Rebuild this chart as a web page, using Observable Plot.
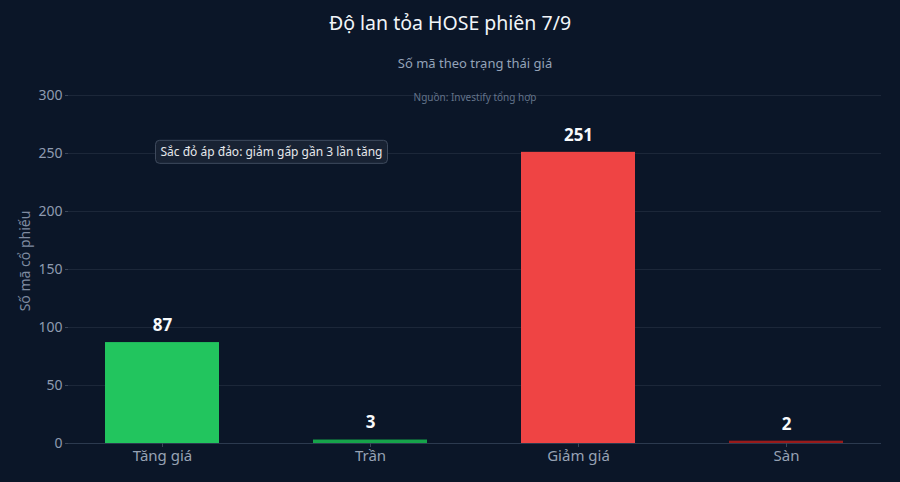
<!DOCTYPE html>
<html>
<head>
<meta charset="utf-8">
<script src="https://cdn.jsdelivr.net/npm/d3@7"></script>
<script src="https://cdn.jsdelivr.net/npm/@observablehq/plot@0.6"></script>
<style>
  html, body { margin: 0; padding: 0; background: #0b1628; }
  #wrap { width: 900px; height: 482px; background: #0b1628; font-family: "Noto Sans", sans-serif; overflow: hidden; }
  #title { height: 46px; line-height: 46px; text-align: center; color: #f1f5f9; font-size: 19.5px; }
  #subtitle { height: 34px; line-height: 34px; text-align: center; color: #94a3b8; font-size: 13px; padding-left: 50px; }
  svg { display: block; }
</style>
</head>
<body>
<div id="wrap">
  <div id="title">Độ lan tỏa HOSE phiên 7/9</div>
  <div id="subtitle">Số mã theo trạng thái giá</div>
  <div id="chart"></div>
</div>
<script>
const categories = ["Tăng giá", "Trần", "Giảm giá", "Sàn"];
const counts = [87, 3, 251, 2];
const barColors = ["#22c55e", "#16a34a", "#ef4444", "#991b1b"];
const yTicks = [0, 50, 100, 150, 200, 250, 300];
const yTitle = "Số mã cổ phiếu";
const sourceNote = "Nguồn: Investify tổng hợp";
const noteCategory = "Tăng giá";
const noteValue = 250;
const noteText = "Sắc đỏ áp đảo: giảm gấp gần 3 lần tăng";

const data = categories.map((c, i) => ({ category: c, count: counts[i] }));

const svg = Plot.plot({
  width: 900,
  height: 402,
  marginLeft: 68,
  marginRight: 19,
  marginTop: 10,
  marginBottom: 39,
  style: { background: "transparent", fontFamily: "Noto Sans, sans-serif", overflow: "visible" },
  x: { domain: categories, range: [58, 891], paddingInner: 0.45, paddingOuter: 0.225, align: 0.5, axis: null },
  y: { domain: [0, 300], range: [363, 15], axis: null },
  color: { domain: categories, range: barColors },
  marks: [
    Plot.ruleY(yTicks, { stroke: "#1c2739", strokeWidth: 1 }),
    Plot.barY(data, { x: "category", y: "count", fill: "category" }),
    Plot.ruleY([0], { stroke: "#2c3a4f", strokeWidth: 1 }),
    Plot.axisY({ ticks: yTicks, tickSize: 3, tickPadding: 3, fontSize: 14, fill: "#8f9bb0", stroke: "#3b4658", label: null }),
    Plot.axisX({ tickSize: 4, tickPadding: 3, fontSize: 15, fill: "#97a2b4", stroke: "#3b4658", label: null }),
    Plot.text(data, { x: "category", y: "count", text: d => String(d.count), dy: -17, fontSize: 17, fontWeight: "bold", fill: "#f8fafc" }),
    Plot.text([yTitle], { frameAnchor: "left", textAnchor: "middle", lineAnchor: "middle", rotate: -90, dx: -43, dy: -6, fontSize: 14, fill: "#7f8ba0" }),
    Plot.text([sourceNote], { frameAnchor: "top", lineAnchor: "middle", dy: 7, fontSize: 10, fill: "#64748b" }),
    Plot.text([{ category: noteCategory, value: noteValue }], { x: "category", y: "value", text: () => noteText, dx: 109, dy: -1, fontSize: 12, fill: "#e5e7eb" })
  ]
});

document.getElementById("chart").appendChild(svg);

// draw a rounded box behind the annotation text
svg.querySelectorAll("text").forEach(t => {
  if (t.textContent === noteText) {
    const b = t.getBBox();
    const r = document.createElementNS("http://www.w3.org/2000/svg", "rect");
    r.setAttribute("x", b.x - 5);
    r.setAttribute("y", b.y - 3);
    r.setAttribute("width", b.width + 10);
    r.setAttribute("height", b.height + 6);
    r.setAttribute("rx", 4);
    r.setAttribute("fill", "#182233");
    r.setAttribute("stroke", "#3f4b5e");
    r.setAttribute("stroke-width", 1);
    if (t.getAttribute("transform")) r.setAttribute("transform", t.getAttribute("transform"));
    t.parentNode.insertBefore(r, t);
  }
});
</script>
</body>
</html>
